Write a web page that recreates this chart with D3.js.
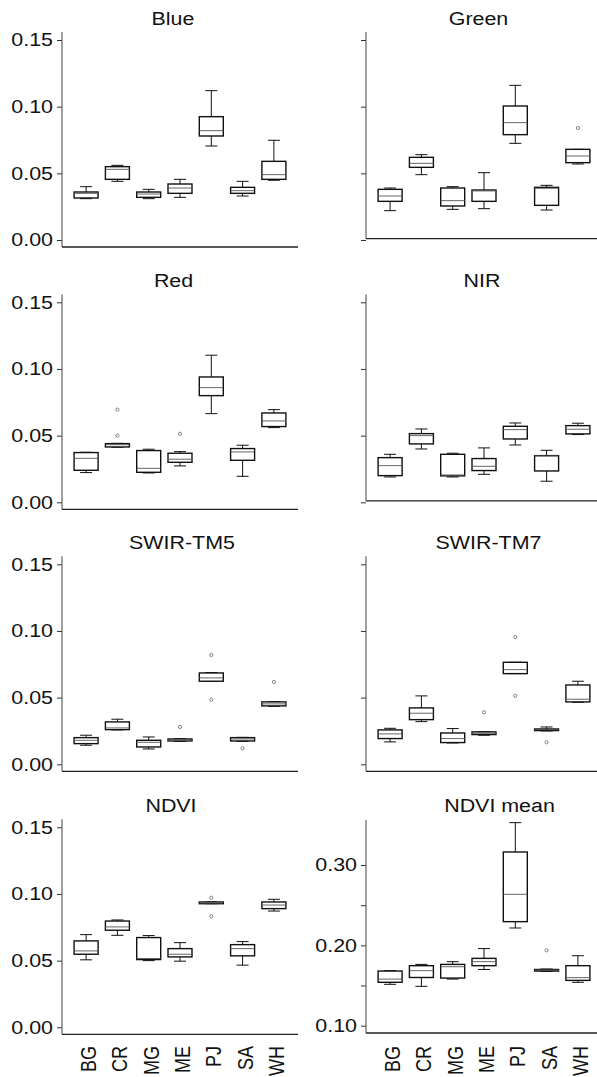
<!DOCTYPE html>
<html><head><meta charset="utf-8">
<script src="https://cdn.jsdelivr.net/npm/d3@7"></script>
<style>
body{margin:0;background:#fff}
svg{display:block}
text{font-family:"Liberation Sans",Arial,Helvetica,sans-serif;fill:#111}
</style>
</head><body>
<svg id="c" width="597" height="1077"></svg>
<script>
// ---------- data ----------
const categories = ["BG","CR","MG","ME","PJ","SA","WH"];
const panelTitles = ["Blue","Green","Red","NIR","SWIR-TM5","SWIR-TM7","NDVI","NDVI mean"];
const reflTicks = [0, 0.05, 0.10, 0.15];
const ndviMeanTicks = [0.10, 0.15, 0.20, 0.25, 0.30];
const ndviMeanLabels = [0.10, 0.20, 0.30];

// each row: [min, q1, median, q3, max] per category
const blue = [
  [0.031, 0.0315, 0.035, 0.036, 0.040],
  [0.044, 0.0455, 0.053, 0.055, 0.056],
  [0.031, 0.032, 0.0345, 0.036, 0.038],
  [0.032, 0.035, 0.039, 0.042, 0.0455],
  [0.0705, 0.078, 0.082, 0.0925, 0.112],
  [0.033, 0.035, 0.037, 0.0395, 0.044],
  [0.0448, 0.0455, 0.049, 0.059, 0.0748]
];
const blueOut = [];

const green = [
  [0.022, 0.029, 0.033, 0.038, 0.039],
  [0.049, 0.0545, 0.0575, 0.062, 0.064],
  [0.023, 0.0255, 0.0295, 0.039, 0.040],
  [0.0235, 0.029, 0.0368, 0.0375, 0.0505],
  [0.0725, 0.079, 0.088, 0.1005, 0.116],
  [0.0225, 0.026, 0.0388, 0.0395, 0.041],
  [0.057, 0.058, 0.063, 0.068, 0.068]
];
const greenOut = [["WH", 0.084]];

const red = [
  [0.0223, 0.024, 0.033, 0.0373, 0.0375],
  [0.0413, 0.0415, 0.0432, 0.0440, 0.0442],
  [0.022, 0.0225, 0.0255, 0.0388, 0.0398],
  [0.0273, 0.030, 0.0323, 0.0368, 0.038],
  [0.0665, 0.080, 0.086, 0.094, 0.1103],
  [0.0195, 0.0315, 0.0378, 0.0403, 0.0428],
  [0.056, 0.0568, 0.061, 0.067, 0.0695]
];
const redOut = [["CR", 0.0695], ["CR", 0.050], ["ME", 0.0514]];

const nir = [
  [0.019, 0.020, 0.0275, 0.0335, 0.036],
  [0.040, 0.0438, 0.050, 0.0515, 0.055],
  [0.019, 0.0198, 0.0205, 0.036, 0.0368],
  [0.021, 0.0238, 0.027, 0.0328, 0.0408],
  [0.043, 0.0475, 0.0545, 0.057, 0.0595],
  [0.0158, 0.0235, 0.0348, 0.035, 0.039],
  [0.0508, 0.0513, 0.0548, 0.0575, 0.0593]
];
const nirOut = [];

const swir5 = [
  [0.0143, 0.0155, 0.018, 0.020, 0.0218],
  [0.0258, 0.026, 0.0273, 0.0318, 0.0338],
  [0.0115, 0.013, 0.0165, 0.018, 0.0205],
  [0.0172, 0.0175, 0.018, 0.019, 0.0192],
  [0.0622, 0.0623, 0.0648, 0.0685, 0.0688],
  [0.0172, 0.0175, 0.019, 0.020, 0.0202],
  [0.0435, 0.0438, 0.0453, 0.0468, 0.047]
];
const swir5Out = [["ME", 0.028], ["PJ", 0.082], ["PJ", 0.0485], ["SA", 0.012], ["WH", 0.0618]];

const swir7 = [
  [0.0168, 0.0193, 0.0228, 0.0258, 0.027],
  [0.032, 0.0335, 0.0383, 0.0423, 0.0513],
  [0.016, 0.0163, 0.0193, 0.0235, 0.0268],
  [0.0218, 0.0223, 0.0233, 0.0243, 0.0245],
  [0.068, 0.068, 0.071, 0.0765, 0.0765],
  [0.025, 0.0253, 0.026, 0.0265, 0.028],
  [0.0465, 0.0468, 0.0488, 0.0595, 0.0623]
];
const swir7Out = [["ME", 0.039], ["PJ", 0.0955], ["PJ", 0.0513], ["SA", 0.0165]];

const ndvi = [
  [0.0506, 0.0548, 0.0573, 0.0648, 0.0695],
  [0.069, 0.0728, 0.0753, 0.0797, 0.0805],
  [0.050, 0.0508, 0.0516, 0.0673, 0.0688],
  [0.0496, 0.0528, 0.0548, 0.059, 0.0635],
  [0.0927, 0.0927, 0.0932, 0.094, 0.094],
  [0.0466, 0.0536, 0.059, 0.062, 0.0643],
  [0.0872, 0.089, 0.0917, 0.094, 0.096]
];
const ndviOut = [["PJ", 0.0972], ["PJ", 0.0832]];

const ndviMean = [
  [0.1515, 0.154, 0.158, 0.168, 0.1685],
  [0.149, 0.160, 0.1685, 0.1747, 0.1763],
  [0.158, 0.1593, 0.1734, 0.1763, 0.1797],
  [0.170, 0.1747, 0.1797, 0.1838, 0.196],
  [0.2216, 0.2295, 0.2635, 0.3162, 0.3527],
  [0.1675, 0.168, 0.1693, 0.170, 0.1705],
  [0.154, 0.1564, 0.1598, 0.1747, 0.1871]
];
const ndviMeanOut = [["SA", 0.1938]];

const panelStats = [blue, green, red, nir, swir5, swir7, ndvi, ndviMean];
const panelOutliers = [blueOut, greenOut, redOut, nirOut, swir5Out, swir7Out, ndviOut, ndviMeanOut];

// ---------- layout ----------
const rowOff = [0, 262.3, 524.3, 787.3];
const colOff = [0, 304];
const titleX = [173, 478.5, 173.5, 482, 182, 488.5, 171, 499.5];
const axisFloor = [-0.00525, 0.001, -0.00525, 0.001, -0.00525, -0.00525, -0.00525, 0.0909];
const axisTop = [0.156, 0.156, 0.156, 0.156, 0.156, 0.156, 0.156, 0.356];
const SX = 1.19;       // horizontal text stretch seen in the reference
const FS = 18;
const BOXW = 24, CAPW = 12;

const svg = d3.select("#c");

panelTitles.forEach((title, i) => {
  const col = i % 2, row = Math.floor(i / 2);
  const ox = colOff[col], oy = rowOff[row];
  const stats = panelStats[i];
  const outs = panelOutliers[i];
  const isMean = title === "NDVI mean";

  const x = d3.scalePoint().domain(categories).range([62 + ox, 298 + ox]).padding(0.77);
  const y = isMean
    ? d3.scaleLinear().domain([0.10, 0.30]).range([oy + 238.4, oy + 77.7])
    : d3.scaleLinear().domain([0, 0.15]).range([oy + 240, oy + 40]);

  const fmt = isMean
    ? (d => ndviMeanLabels.some(v => Math.abs(v - d) < 1e-9) ? d3.format(".2f")(d) : "")
    : (col === 0 ? d3.format(".2f") : () => "");

  // y axis ticks
  const ax = d3.axisLeft(y).tickValues(isMean ? ndviMeanTicks : reflTicks)
    .tickSize(5).tickPadding(2.6).tickFormat(fmt);
  const g = svg.append("g").attr("transform", `translate(${62 + ox},0)`).call(ax);
  g.attr("font-size", FS).attr("font-family", '"Liberation Sans",Arial,sans-serif');
  g.select(".domain").remove();
  g.selectAll(".tick line").attr("stroke", "#333").attr("stroke-width", 1);
  g.selectAll(".tick text").attr("fill", "#111").attr("transform", `scale(${SX},1)`);

  // axis lines
  svg.append("line")
    .attr("x1", 62 + ox).attr("x2", 62 + ox)
    .attr("y1", y(axisTop[i])).attr("y2", y(axisFloor[i]))
    .attr("stroke", "#444").attr("stroke-width", 1);
  svg.append("line")
    .attr("x1", 62 + ox).attr("x2", 298 + ox)
    .attr("y1", y(axisFloor[i])).attr("y2", y(axisFloor[i]))
    .attr("stroke", "#222").attr("stroke-width", 1.3);

  // title
  svg.append("text")
    .attr("transform", `translate(${titleX[i]},${25 + oy}) scale(${SX},1)`)
    .attr("text-anchor", "middle").attr("font-size", FS)
    .text(title);

  // boxes
  const bg = svg.append("g");
  categories.forEach((c, k) => {
    const [mn, q1, md, q3, mx] = stats[k];
    const cx = x(c);
    const b = bg.append("g");
    // whiskers
    b.append("line").attr("x1", cx).attr("x2", cx).attr("y1", y(q3)).attr("y2", y(mx))
      .attr("stroke", "#111").attr("stroke-width", 1);
    b.append("line").attr("x1", cx).attr("x2", cx).attr("y1", y(q1)).attr("y2", y(mn))
      .attr("stroke", "#111").attr("stroke-width", 1);
    b.append("line").attr("x1", cx - CAPW / 2).attr("x2", cx + CAPW / 2).attr("y1", y(mx)).attr("y2", y(mx))
      .attr("stroke", "#111").attr("stroke-width", 1);
    b.append("line").attr("x1", cx - CAPW / 2).attr("x2", cx + CAPW / 2).attr("y1", y(mn)).attr("y2", y(mn))
      .attr("stroke", "#111").attr("stroke-width", 1);
    // box
    b.append("rect").attr("x", cx - BOXW / 2).attr("width", BOXW)
      .attr("y", y(q3)).attr("height", Math.max(0.5, y(q1) - y(q3)))
      .attr("fill", "#fff").attr("stroke", "#111").attr("stroke-width", 1.4);
    // median
    b.append("line").attr("x1", cx - BOXW / 2).attr("x2", cx + BOXW / 2).attr("y1", y(md)).attr("y2", y(md))
      .attr("stroke", "#555").attr("stroke-width", 0.9);
  });

  // outliers
  bg.selectAll("circle.o").data(outs).enter().append("circle")
    .attr("class", "o")
    .attr("cx", d => x(d[0])).attr("cy", d => y(d[1])).attr("r", 1.6)
    .attr("fill", "none").attr("stroke", "#666").attr("stroke-width", 0.8);

  // category labels on the bottom row
  if (row === 3) {
    categories.forEach(c => {
      svg.append("text")
        .attr("transform", `translate(${x(c) + 2.5},1046) scale(${SX},1) rotate(-90)`)
        .attr("text-anchor", "end").attr("dy", "0.35em").attr("font-size", FS)
        .text(c);
    });
  }
});
</script>
</body></html>
